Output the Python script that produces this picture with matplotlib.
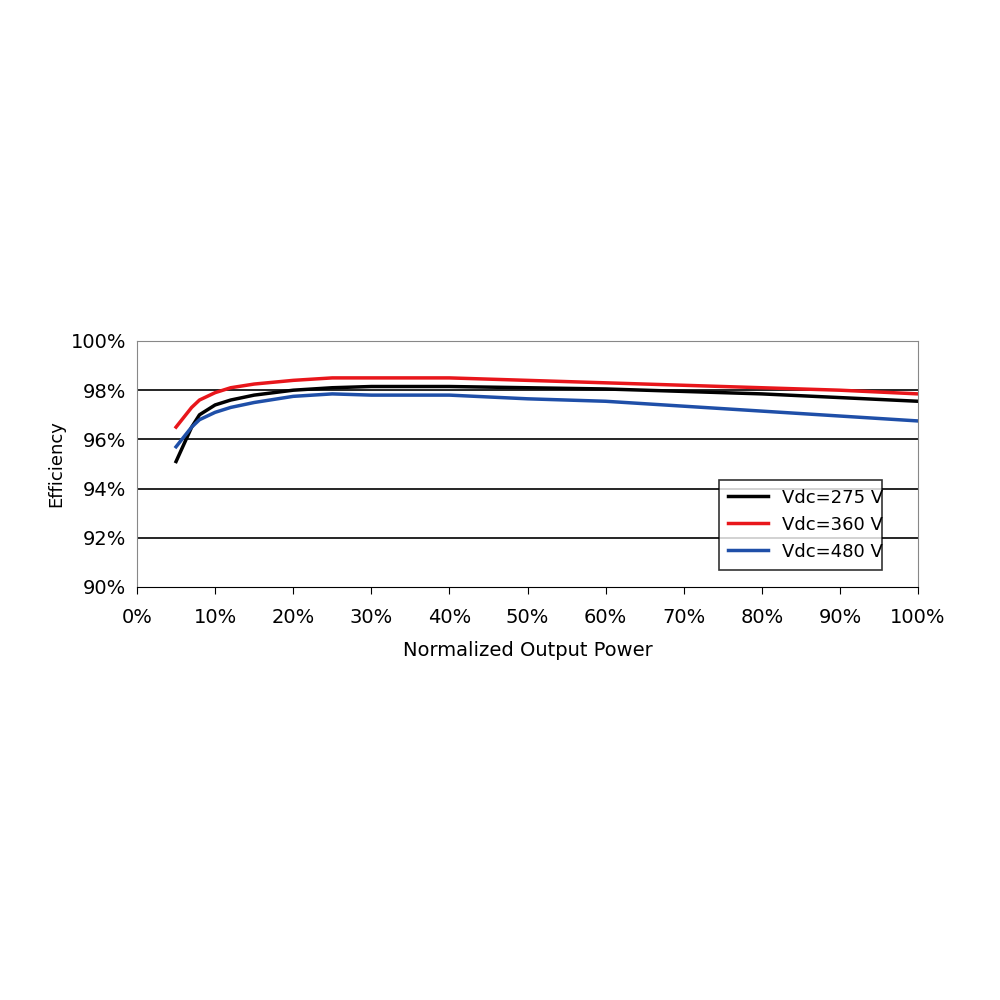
import matplotlib
matplotlib.use("Agg")
import matplotlib.pyplot as plt
from matplotlib.ticker import FuncFormatter

x = [5, 6, 7, 8, 10, 12, 15, 20, 25, 30, 40, 50, 60, 70, 80, 90, 100]
v275 = [95.1, 95.8, 96.5, 97.0, 97.4, 97.6, 97.8, 98.0, 98.1, 98.15, 98.15, 98.1, 98.05, 97.95, 97.85, 97.7, 97.55]
v360 = [96.5, 96.9, 97.3, 97.6, 97.9, 98.1, 98.25, 98.4, 98.5, 98.5, 98.5, 98.4, 98.3, 98.2, 98.1, 98.0, 97.85]
v480 = [95.7, 96.1, 96.5, 96.8, 97.1, 97.3, 97.5, 97.75, 97.85, 97.8, 97.8, 97.65, 97.55, 97.35, 97.15, 96.95, 96.75]
labels = ["Vdc=275 V", "Vdc=360 V", "Vdc=480 V"]
colors = ["#000000", "#e8161b", "#1f4fa8"]

fig = plt.figure(figsize=(10, 10), dpi=100)
ax = fig.add_axes([0.137, 0.413, 0.781, 0.246])
for y, c, l in zip([v275, v360, v480], colors, labels):
    ax.plot(x, y, color=c, lw=2.5, label=l)
ax.set_xlim(0, 100)
ax.set_ylim(90, 100)
ax.set_xticks(range(0, 101, 10))
ax.set_yticks(range(90, 101, 2))
ax.xaxis.set_major_formatter(FuncFormatter(lambda v, p: f"{v:.0f}%"))
ax.yaxis.set_major_formatter(FuncFormatter(lambda v, p: f"{v:.0f}%"))
for g in [92, 94, 96, 98]:
    ax.axhline(g, color="black", lw=1.2, zorder=0)
for s in ax.spines.values():
    s.set_color("#888888")
ax.spines["bottom"].set_color("black")
ax.tick_params(axis="y", length=0, labelsize=14, pad=8)
ax.tick_params(axis="x", length=5, labelsize=14, pad=10)
ax.set_xlabel("Normalized Output Power", fontsize=14, labelpad=10)
ax.set_ylabel("Efficiency", fontsize=13)
leg = ax.legend(loc="lower left", bbox_to_anchor=(0.745, 0.07, 0.209, 0.374), mode="expand",
                fontsize=13, frameon=True, fancybox=False, edgecolor="black", handlelength=2.2,
                labelspacing=0.5, borderpad=0.5, borderaxespad=0)
leg.get_frame().set_linewidth(1.2)
fig.savefig("out.png", dpi=100)
